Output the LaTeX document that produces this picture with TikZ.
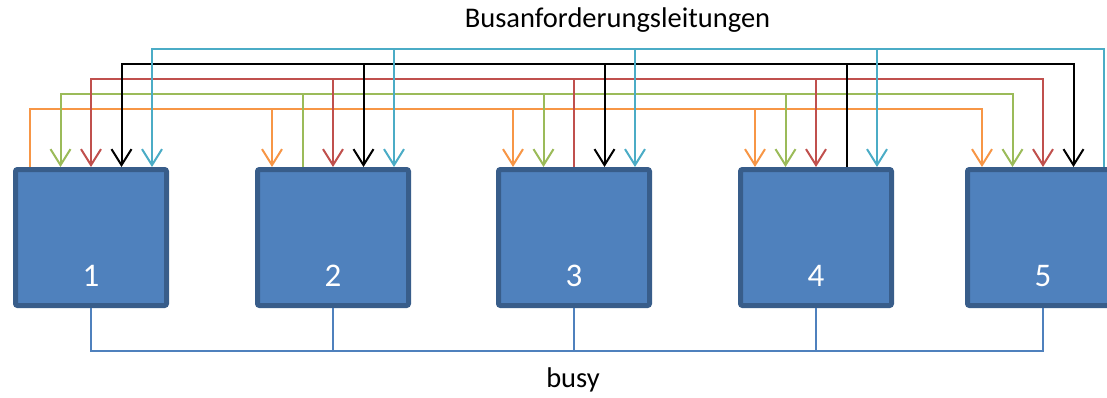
\documentclass[tikz,border=0pt]{standalone}
\usepackage{fontspec}
\setmainfont{Carlito}
\usetikzlibrary{arrows.meta,calc}

\definecolor{boxfill}{HTML}{4F81BD}
\definecolor{boxline}{HTML}{385D8A}
\definecolor{cor}{HTML}{F79646}
\definecolor{cgr}{HTML}{9BBB59}
\definecolor{cre}{HTML}{C0504D}
\definecolor{cbk}{HTML}{000000}
\definecolor{ccy}{HTML}{4BACC6}

\tikzset{
  unit/.style={draw=boxline, fill=boxfill, line width=5pt, rounded corners=2pt,
    minimum width=151pt, minimum height=136pt, inner sep=0pt},
  num/.style={text=white, font=\fontsize{33}{36}\selectfont, anchor=base, inner sep=0pt},
  caption/.style={font=\fontsize{28.5}{32}\selectfont, anchor=base, inner sep=0pt},
  req/.style={line width=2pt},
  busline/.style={draw=boxfill, line width=2pt},
  >={Straight Barb[length=16pt,width=20pt]}
}

\begin{document}
\begin{tikzpicture}[x=1pt,y=-1pt]
\useasboundingbox (0,0) rectangle (1107,397);

% the five units
\node[unit] (b1) at (91,237.5) {};
\node[unit] (b2) at (333,237.5) {};
\node[unit] (b3) at (574,237.5) {};
\node[unit] (b4) at (816,237.5) {};
\node[unit] (b5) at (1043,237.5) {};

\foreach \i/\x in {1/91,2/333,3/574,4/816,5/1043}
  \node[num] (n\i) at (\x,286) {\i};

% connection points on top of each unit, one per request line
\foreach \i in {1,...,5} {
  \coordinate (t\i o) at ([xshift=-61]b\i.north);
  \coordinate (t\i g) at ([xshift=-30.5]b\i.north);
  \coordinate (t\i r) at (b\i.north);
  \coordinate (t\i k) at ([xshift=30.5]b\i.north);
  \coordinate (t\i c) at ([xshift=61]b\i.north);
}

% levels of the request lines
\coordinate (Lc) at (0,49);
\coordinate (Lk) at (0,64);
\coordinate (Lr) at (0,79);
\coordinate (Lg) at (0,94);
\coordinate (Lo) at (0,109);

% orange line, driven by unit 1
\draw[req, cor, ->] (t1o) |- (t5o |- Lo) -- (t5o);
\foreach \i in {2,3,4} \draw[req, cor, ->] (t\i o |- Lo) -- (t\i o);

% green line, driven by unit 2
\draw[req, cgr, <->] (t1g) |- (t5g |- Lg) -- (t5g);
\draw[req, cgr] (t2g |- Lg) -- (t2g);
\foreach \i in {3,4} \draw[req, cgr, ->] (t\i g |- Lg) -- (t\i g);

% red line, driven by unit 3
\draw[req, cre, <->] (t1r) |- (t5r |- Lr) -- (t5r);
\draw[req, cre] (t3r |- Lr) -- (t3r);
\foreach \i in {2,4} \draw[req, cre, ->] (t\i r |- Lr) -- (t\i r);

% black line, driven by unit 4
\draw[req, cbk, <->] (t1k) |- (t5k |- Lk) -- (t5k);
\draw[req, cbk] (t4k |- Lk) -- (t4k);
\foreach \i in {2,3} \draw[req, cbk, ->] (t\i k |- Lk) -- (t\i k);

% cyan line, driven by unit 5
\draw[req, ccy, <-] (t1c) |- (t5c |- Lc) -- (t5c);
\foreach \i in {2,3,4} \draw[req, ccy, ->] (t\i c |- Lc) -- (t\i c);

% busy line
\coordinate (busy) at (0,351);
\draw[busline] (b1.south) |- (b5.south |- busy) -- (b5.south);
\foreach \i in {2,3,4} \draw[busline] (b\i.south) -- (b\i.south |- busy);

\node[caption] (title) at (617.5,27) {Busanforderungsleitungen};
\node[caption] (busylabel) at (573,387) {busy};
\end{tikzpicture}
\end{document}
